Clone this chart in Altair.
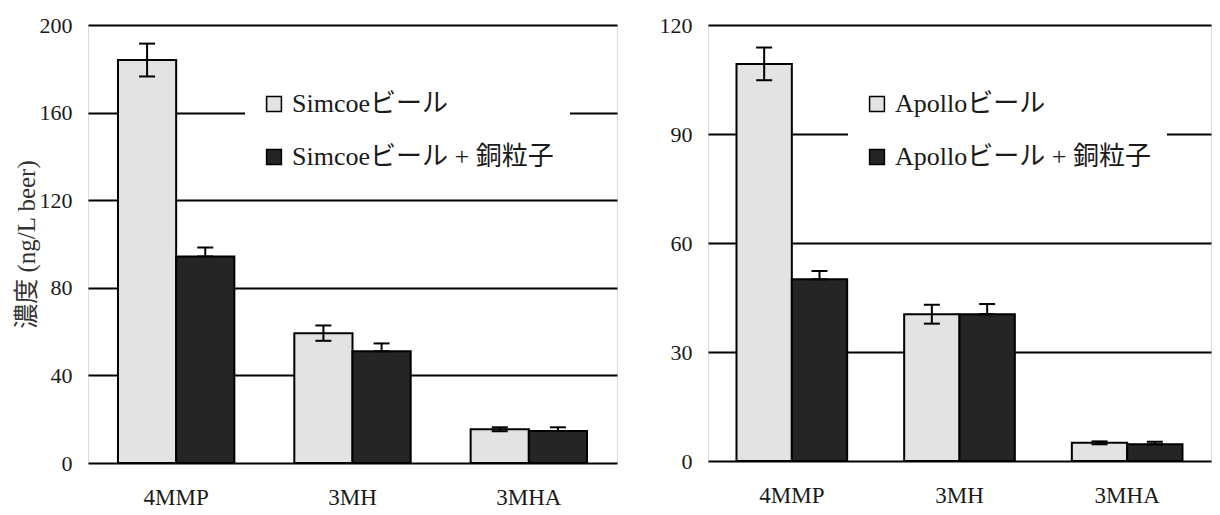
import altair as alt
import pandas as pd

compounds = ["4MMP", "3MH", "3MHA"]

simcoe_labels = ["Simcoeビール", "Simcoeビール + 銅粒子"]
simcoe = [184.0, 59.3, 15.4]
simcoe_err = [7.5, 3.5, 0.9]
simcoe_cu = [94.3, 51.0, 14.6]
simcoe_cu_err = [4.1, 3.6, 1.7]

apollo_labels = ["Apolloビール", "Apolloビール + 銅粒子"]
apollo = [109.3, 40.4, 5.0]
apollo_err = [4.5, 2.6, 0.4]
apollo_cu = [50.0, 40.4, 4.6]
apollo_cu_err = [2.3, 2.8, 0.7]

left_ticks = [0, 40, 80, 120, 160, 200]
right_ticks = [0, 30, 60, 90, 120]

SERIF = "'Liberation Serif', 'Noto Sans CJK JP', serif"
TXT = "#1a1a1a"


def build(labels, base, base_err, cu, cu_err):
    rows = []
    for i, c in enumerate(compounds):
        rows.append(dict(compound=c, series=labels[0], value=base[i],
                         lo=base[i] - base_err[i], hi=base[i] + base_err[i]))
        rows.append(dict(compound=c, series=labels[1], value=cu[i],
                         lo=cu[i], hi=cu[i] + cu_err[i]))
    return pd.DataFrame(rows)


def panel(df, labels, ymax, ticks, width, height, lx, ly, title):
    x = alt.X("compound:N", sort=compounds,
              scale=alt.Scale(paddingInner=0.34, paddingOuter=0.17),
              axis=alt.Axis(title=None, labelAngle=0, labelFont=SERIF,
                            labelFontSize=23, labelColor=TXT, labelPadding=23,
                            ticks=False, domain=False))
    xo = alt.XOffset("series:N", sort=labels,
                     scale=alt.Scale(paddingInner=0, paddingOuter=0))
    common = dict(values=ticks, grid=True, gridColor="black", gridWidth=2,
                  gridOpacity=1, ticks=False, domain=False,
                  labelFont=SERIF, labelFontSize=22, labelColor=TXT,
                  labelPadding=16)
    if title:
        yaxis = alt.Axis(title=title, titleFont=SERIF, titleFontSize=25,
                         titleFontWeight="normal", titleColor="#333333",
                         titlePadding=0, **common)
    else:
        yaxis = alt.Axis(title=None, **common)
    y = alt.Y("value:Q", scale=alt.Scale(domain=[0, ymax], nice=False), axis=yaxis)
    color = alt.Color("series:N", sort=labels,
                      scale=alt.Scale(domain=labels, range=["#e3e3e3", "#252525"]),
                      legend=alt.Legend(title=None, orient="none", legendX=lx, legendY=ly,
                                        fillColor="white", padding=16,
                                        symbolType="square", symbolSize=220,
                                        symbolStrokeColor="black", symbolStrokeWidth=1.5,
                                        symbolOpacity=1,
                                        labelFont=SERIF, labelFontSize=26,
                                        labelColor=TXT, rowPadding=27, labelOffset=5,
                                        labelLimit=400))
    base = alt.Chart(df)
    bars = base.mark_bar(stroke="black", strokeWidth=2, opacity=1).encode(
        x=x, xOffset=xo, y=y, color=color)
    rule = base.mark_rule(color="black", strokeWidth=2).encode(
        x=x, xOffset=xo, y="lo:Q", y2="hi:Q")
    cap_hi = base.mark_tick(color="black", thickness=2, size=16, orient="horizontal", opacity=1).encode(
        x=x, xOffset=xo, y="hi:Q")
    cap_lo = base.mark_tick(color="black", thickness=2, size=16, orient="horizontal", opacity=1).encode(
        x=x, xOffset=xo, y="lo:Q")
    return alt.layer(bars, rule, cap_hi, cap_lo).properties(width=width, height=height)


left = panel(build(simcoe_labels, simcoe, simcoe_err, simcoe_cu, simcoe_cu_err),
             simcoe_labels, 200, left_ticks, 529, 438, 157, 50, "濃度 (ng/L beer)")
right = panel(build(apollo_labels, apollo, apollo_err, apollo_cu, apollo_cu_err),
              apollo_labels, 120, right_ticks, 503, 436, 140, 50, None)

chart = alt.hconcat(left, right, spacing=40).resolve_scale(
    color="independent", y="independent", x="independent", xOffset="independent"
).configure_view(stroke="black", strokeWidth=2).configure(
    background="white", padding={"left": 5, "top": 5, "right": 0, "bottom": 5})

chart.save("out.html", embed_options={"renderer": "svg", "actions": False})
